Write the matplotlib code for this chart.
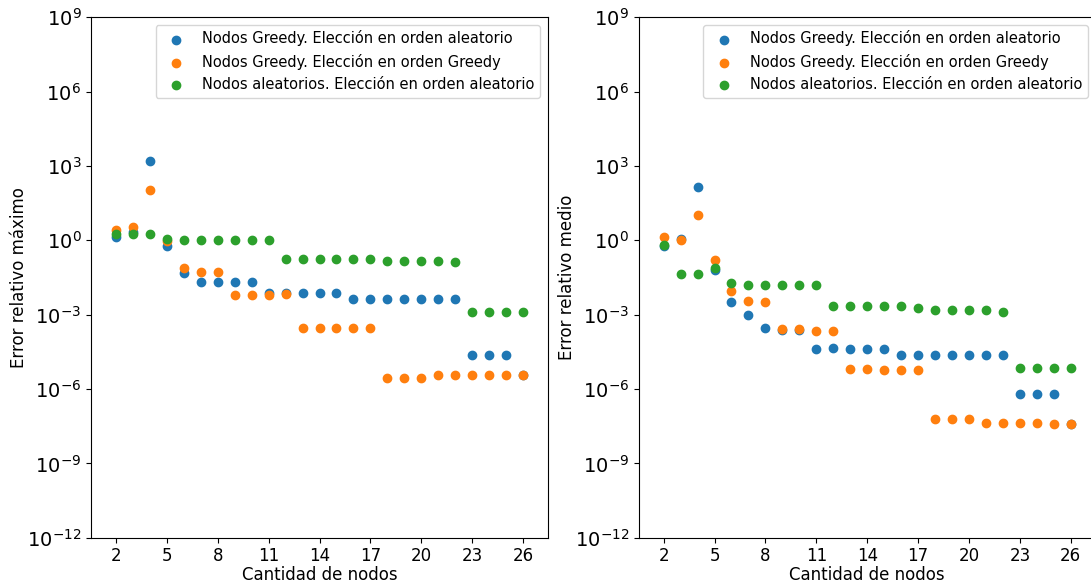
import matplotlib
matplotlib.use("Agg")
import matplotlib.pyplot as plt

nodos = list(range(2, 27))

etiquetas = ["Nodos Greedy. Elección en orden aleatorio",
             "Nodos Greedy. Elección en orden Greedy",
             "Nodos aleatorios. Elección en orden aleatorio"]

# error relativo maximo
max_greedy_aleat = [1.35, 2.2, 1550, 0.6, 0.048, 0.02, 0.02, 0.02, 0.02, 0.0074, 0.0074, 0.0074,
                    0.0074, 0.0074, 0.0041, 0.0041, 0.0041, 0.0041, 0.0041, 0.0041, 0.0041,
                    2.4e-5, 2.4e-5, 2.4e-5, 3.7e-6]
max_greedy_greedy = [2.5, 3.5, 106, 0.93, 0.078, 0.054, 0.054, 0.0065, 0.0065, 0.0065, 0.0068,
                     2.9e-4, 2.9e-4, 2.9e-4, 2.9e-4, 2.9e-4, 2.9e-6, 2.9e-6, 2.9e-6, 3.7e-6,
                     3.7e-6, 3.7e-6, 3.7e-6, 3.7e-6, 3.7e-6]
max_aleat_aleat = [1.75, 1.75, 1.75, 1.12, 1.0, 1.0, 1.0, 1.0, 1.0, 1.0, 0.18, 0.18, 0.18, 0.18,
                   0.18, 0.18, 0.145, 0.145, 0.145, 0.145, 0.13, 1.24e-3, 1.24e-3, 1.24e-3, 1.24e-3]

# error relativo medio
med_greedy_aleat = [0.57, 1.17, 137, 0.065, 0.0034, 0.001, 2.9e-4, 2.4e-4, 2.4e-4, 4.3e-5, 4.7e-5,
                    4.3e-5, 4.3e-5, 4.3e-5, 2.4e-5, 2.4e-5, 2.4e-5, 2.4e-5, 2.4e-5, 2.4e-5, 2.4e-5,
                    6.1e-7, 6.1e-7, 6.1e-7, 3.7e-8]
med_greedy_greedy = [1.37, 1.0, 10.3, 0.155, 0.0094, 0.0037, 0.0034, 2.6e-4, 2.6e-4, 2.2e-4, 2.2e-4,
                     6.3e-6, 6.3e-6, 5.7e-6, 5.7e-6, 5.7e-6, 5.9e-8, 5.9e-8, 5.9e-8, 4.1e-8, 4.1e-8,
                     4.1e-8, 4.1e-8, 3.7e-8, 3.7e-8]
med_aleat_aleat = [0.63, 0.045, 0.045, 0.078, 0.0187, 0.016, 0.016, 0.016, 0.016, 0.016, 0.0022,
                   0.0022, 0.0022, 0.0022, 0.0022, 0.0019, 0.0015, 0.0015, 0.0015, 0.0015, 0.0013,
                   7.1e-6, 7.1e-6, 7.1e-6, 7.1e-6]

fig = plt.figure(figsize=(10.91, 5.86), dpi=100)
ax1 = fig.add_axes([91 / 1091, 48.3 / 586, 456.7 / 1091, 520.4 / 586])
ax2 = fig.add_axes([638.7 / 1091, 48.3 / 586, 456.7 / 1091, 520.4 / 586])

paneles = [(ax1, [max_greedy_aleat, max_greedy_greedy, max_aleat_aleat], "Error relativo máximo"),
           (ax2, [med_greedy_aleat, med_greedy_greedy, med_aleat_aleat], "Error relativo medio")]

for ax, series, ylabel in paneles:
    for valores, etiqueta in zip(series, etiquetas):
        ax.scatter(nodos, valores, label=etiqueta)
    ax.set_yscale("log")
    ax.set_ylim(1e-12, 1e9)
    ax.set_yticks([10.0 ** k for k in range(-12, 10, 3)])
    ax.minorticks_off()
    ax.set_xlim(0.53, 27.45)
    ax.set_xticks(range(2, 27, 3))
    ax.tick_params(axis="y", labelsize=14)
    ax.tick_params(axis="x", labelsize=12)
    ax.set_xlabel("Cantidad de nodos", fontsize=12, labelpad=0.5)
    ax.set_ylabel(ylabel, fontsize=12, labelpad=-1)
    ax.legend(loc="upper right", fontsize=10.5)

fig.savefig("out.png", dpi=100)
